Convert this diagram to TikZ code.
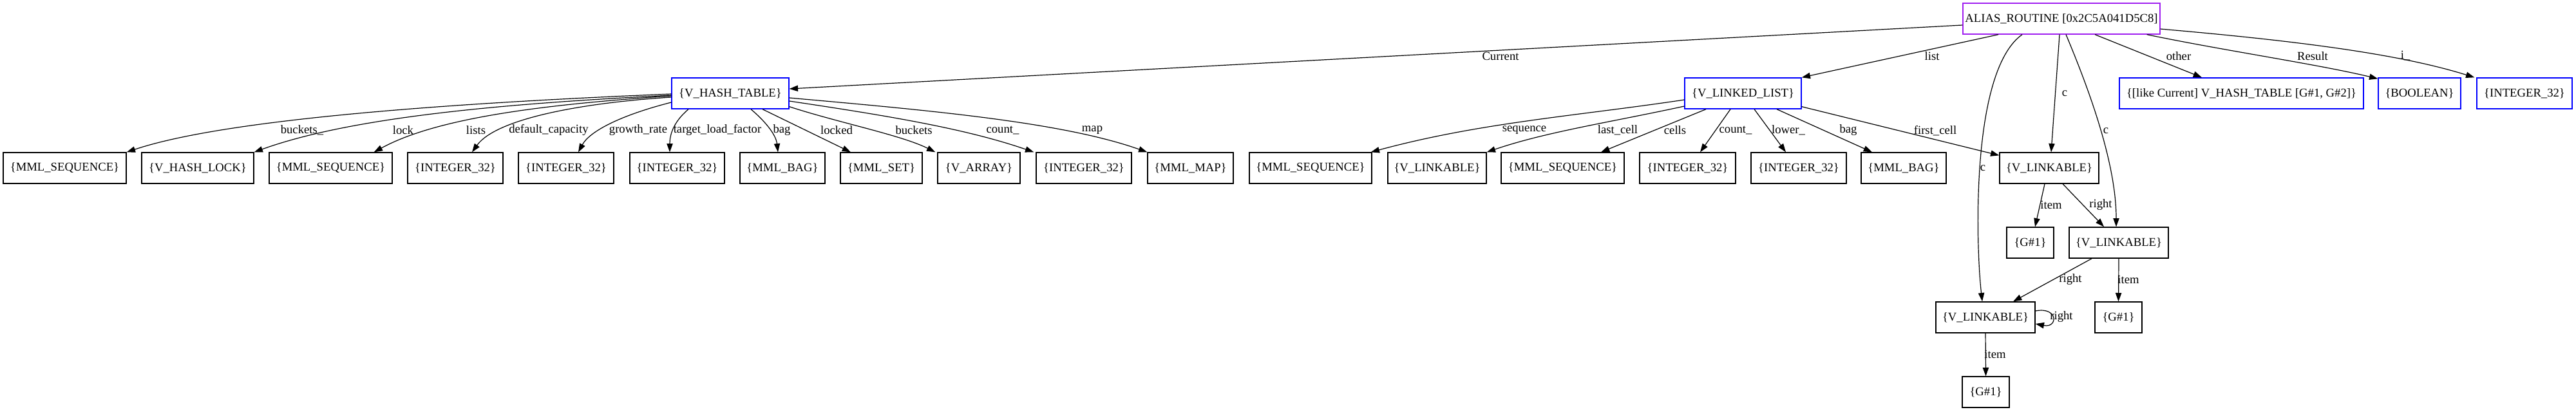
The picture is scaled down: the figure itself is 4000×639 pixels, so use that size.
\documentclass[tikz,border=0pt]{standalone}
\usepackage{fontspec}
\setmainfont{Liberation Serif}
\usetikzlibrary{arrows.meta}
\definecolor{gvpurple}{RGB}{160,32,240}
\definecolor{gvblue}{RGB}{0,0,255}
\tikzset{
  box/.style={draw, line width=1pt, rectangle, inner sep=0pt, minimum height=36pt, font=\fontsize{14pt}{16pt}\selectfont},
  bluebox/.style={box, draw=gvblue},
  rootbox/.style={box, draw=gvpurple},
  bw/.style={minimum width=#1*0.75pt},
  lbl/.style={inner sep=0pt, font=\fontsize{14pt}{16pt}\selectfont},
  conn/.style={line width=0.9pt, -{Triangle[length=10pt,width=7pt]}},
}
\begin{document}
\begin{tikzpicture}[x=0.75pt, y=-0.75pt]
\useasboundingbox (0,0) rectangle (4000,639);

% root
\node[rootbox, bw=306] (root) at (3201,29) {ALIAS\_ROUTINE [0x2C5A041D5C8]};

% row 1
\node[bluebox, bw=182] (htab) at (1134,145) {\{V\_HASH\_TABLE\}};
\node[bluebox, bw=181] (llist) at (2706.5,145) {\{V\_LINKED\_LIST\}};
\node[bluebox, bw=379] (like) at (3480.5,145) {\{[like Current] V\_HASH\_TABLE [G\#1, G\#2]\}};
\node[bluebox, bw=128] (bool) at (3757,145) {\{BOOLEAN\}};
\node[bluebox, bw=148] (int) at (3920,145) {\{INTEGER\_32\}};

% row 2
\node[box, bw=191] (n1) at (100.5,261) {\{MML\_SEQUENCE\}};
\node[box, bw=174] (n2) at (307,261) {\{V\_HASH\_LOCK\}};
\node[box, bw=191] (n3) at (513.5,261) {\{MML\_SEQUENCE\}};
\node[box, bw=148] (n4) at (707,261) {\{INTEGER\_32\}};
\node[box, bw=148] (n5) at (879,261) {\{INTEGER\_32\}};
\node[box, bw=147] (n6) at (1051.5,261) {\{INTEGER\_32\}};
\node[box, bw=132] (n7) at (1215,261) {\{MML\_BAG\}};
\node[box, bw=127] (n8) at (1368.5,261) {\{MML\_SET\}};
\node[box, bw=128] (n9) at (1520,261) {\{V\_ARRAY\}};
\node[box, bw=148] (n10) at (1683,261) {\{INTEGER\_32\}};
\node[box, bw=133] (n11) at (1848.5,261) {\{MML\_MAP\}};
\node[box, bw=190] (n12) at (2035,261) {\{MML\_SEQUENCE\}};
\node[box, bw=153] (n13) at (2231.5,261) {\{V\_LINKABLE\}};
\node[box, bw=191] (n14) at (2426.5,261) {\{MML\_SEQUENCE\}};
\node[box, bw=149] (n15) at (2620.5,261) {\{INTEGER\_32\}};
\node[box, bw=148] (n16) at (2793,261) {\{INTEGER\_32\}};
\node[box, bw=132] (n17) at (2956,261) {\{MML\_BAG\}};
\node[box, bw=154] (vl1) at (3182,261) {\{V\_LINKABLE\}};

% lower rows
\node[box, bw=73] (g1a) at (3152.5,377) {\{G\#1\}};
\node[box, bw=154] (vl2) at (3290,377) {\{V\_LINKABLE\}};
\node[box, bw=154] (vl3) at (3083,493) {\{V\_LINKABLE\}};
\node[box, bw=73] (g1b) at (3289.5,493) {\{G\#1\}};
\node[box, bw=73] (g1c) at (3083.5,609) {\{G\#1\}};

% ---- root edges
\draw[conn] ([shift={(0,10)}]root.west) -- ([shift={(0,-7)}]htab.east);
\node[lbl] (lCurrent) at (2330,87) {Current};
\draw[conn] ([shift={(-98,0)}]root.south) -- (llist.north east);
\node[lbl] (lList) at (3000,87) {list};
\draw[conn] ([shift={(-61,0)}]root.south) .. controls (3060,110) and (3068,380) .. ([shift={(-5,0)}]vl3.north);
\node[lbl] (lc3) at (3079,261) {c};
\draw[conn] ([shift={(-3,0)}]root.south) -- ([shift={(3,0)}]vl1.north);
\node[lbl] (lc1) at (3206,145) {c};
\draw[conn] ([shift={(7,0)}]root.south) .. controls (3240,130) and (3286,250) .. ([shift={(-4,0)}]vl2.north);
\node[lbl] (lc2) at (3270,203) {c};
\draw[conn] ([shift={(52,0)}]root.south) -- ([shift={(-61.5,0)}]like.north);
\node[lbl] (lOther) at (3383,87) {other};
\draw[conn] ([shift={(-21,0)}]root.south east) .. controls (3450,78) and (3600,100) .. ([shift={(0,2)}]bool.north west);
\node[lbl] (lResult) at (3591,87) {Result};
\draw[conn] ([shift={(0,16)}]root.east) .. controls (3550,62) and (3720,82) .. ([shift={(-3,0)}]int.north west);
\node[lbl] (lI) at (3735,87) {i\_};

% ---- hash table edges
\draw[conn] ([shift={(0,1)}]htab.west) .. controls (700,160) and (350,185) .. (n1.north east);
\node[lbl] (lBuckets_) at (469,202) {buckets\_};
\draw[conn] ([shift={(0,3)}]htab.west) .. controls (800,160) and (550,180) .. (n2.north east);
\node[lbl] (lLock) at (626,202) {lock};
\draw[conn] ([shift={(0,4)}]htab.west) .. controls (850,162) and (680,182) .. ([shift={(-29,0)}]n3.north east);
\node[lbl] (lLists) at (739,202) {lists};
\draw[conn] ([shift={(0,6)}]htab.west) .. controls (900,160) and (770,185) .. ([shift={(26,0)}]n4.north);
\node[lbl] (lDefCap) at (852,202) {default\_capacity};
\draw[conn] ([shift={(0,14)}]htab.west) .. controls (960,180) and (915,205) .. ([shift={(19,0)}]n5.north);
\node[lbl] (lGrowth) at (991,202) {growth\_rate};
\draw[conn] ([shift={(-65,0)}]htab.south) .. controls (1045,190) and (1040,210) .. ([shift={(-11.5,0)}]n6.north);
\node[lbl] (lTarget) at (1114,202) {target\_load\_factor};
\draw[conn] ([shift={(32,0)}]htab.south) .. controls (1190,190) and (1205,210) .. ([shift={(-7,0)}]n7.north);
\node[lbl] (lBag) at (1214,202) {bag};
\draw[conn] ([shift={(50,0)}]htab.south) -- ([shift={(-47.5,0)}]n8.north);
\node[lbl] (lLocked) at (1299,202) {locked};
\draw[conn] ([shift={(0,-4)}]htab.south east) .. controls (1300,190) and (1400,210) .. ([shift={(-3,0)}]n9.north west);
\node[lbl] (lBuckets) at (1419,202) {buckets};
\draw[conn] ([shift={(0,12)}]htab.east) .. controls (1380,180) and (1500,200) .. ([shift={(-3,0)}]n10.north west);
\node[lbl] (lCount) at (1557,202) {count\_};
\draw[conn] ([shift={(0,7)}]htab.east) .. controls (1450,172) and (1650,190) .. (n11.north west);
\node[lbl] (lMap) at (1696,202) {map};

% ---- linked list edges
\draw[conn] ([shift={(0,10)}]llist.west) .. controls (2450,180) and (2300,190) .. ([shift={(-2,0)}]n12.north east);
\node[lbl] (lSeq) at (2367,202) {sequence};
\draw[conn] ([shift={(0,20)}]llist.west) .. controls (2500,190) and (2400,205) .. (n13.north east);
\node[lbl] (lLast) at (2512,202) {last\_cell};
\draw[conn] ([shift={(-57.5,0)}]llist.south) -- ([shift={(59.5,0)}]n14.north);
\node[lbl] (lCells) at (2601,202) {cells};
\draw[conn] ([shift={(-19.5,0)}]llist.south) -- ([shift={(19.5,0)}]n15.north);
\node[lbl] (lCount2) at (2695,202) {count\_};
\draw[conn] ([shift={(17.5,0)}]llist.south) -- ([shift={(-20,0)}]n16.north);
\node[lbl] (lLower) at (2777,202) {lower\_};
\draw[conn] ([shift={(52.5,0)}]llist.south) -- ([shift={(-49,0)}]n17.north);
\node[lbl] (lBag2) at (2870,202) {bag};
\draw[conn] ([shift={(0,-4)}]llist.south east) -- ([shift={(0,5)}]vl1.north west);
\node[lbl] (lFirst) at (3005,203) {first\_cell};

% ---- linkable edges
\draw[conn] ([shift={(-7,0)}]vl1.south) -- ([shift={(7.5,0)}]g1a.north);
\node[lbl] (lItem1) at (3185,318) {item};
\draw[conn] ([shift={(21,0)}]vl1.south) -- ([shift={(-23,0)}]vl2.north);
\node[lbl] (lRight1) at (3262,318) {right};
\draw[conn] ([shift={(-42,0)}]vl2.south) -- ([shift={(43,0)}]vl3.north);
\node[lbl] (lRight2) at (3215,434) {right};
\draw[conn] (vl2.south) -- (g1b.north);
\node[lbl] (lItem2) at (3305,434) {item};
\draw[conn] ([shift={(0,-10)}]vl3.east) .. controls (3196,476) and (3196,510) .. ([shift={(0,10)}]vl3.east);
\node[lbl] (lRight3) at (3201,492) {right};
\draw[conn] (vl3.south) -- (g1c.north);
\node[lbl] (lItem3) at (3098,550) {item};
\end{tikzpicture}
\end{document}
